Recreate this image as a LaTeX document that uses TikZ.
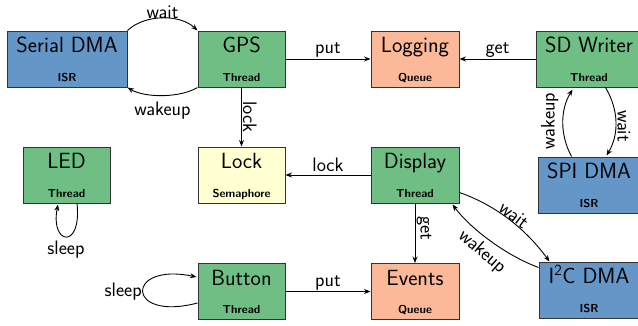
\documentclass[tikz,border=0pt]{standalone}
\usepackage{fontspec}
\usetikzlibrary{arrows.meta,calc}

\definecolor{isrblue}{HTML}{6596C8}
\definecolor{thrgreen}{HTML}{6FBF85}
\definecolor{queorange}{HTML}{FCB99A}
\definecolor{semyellow}{HTML}{FFFFD2}

\tikzset{
  box/.style={draw=black!80, line width=1pt, minimum height=56pt, inner sep=0pt},
  ttl/.style={font=\fontsize{22}{26}\selectfont\sffamily, anchor=base, inner sep=0pt},
  sub/.style={font=\fontsize{11.5}{14}\selectfont\sffamily\bfseries, anchor=base, inner sep=0pt},
  lbl/.style={font=\fontsize{19.5}{23}\selectfont\sffamily, inner sep=0pt},
  conn/.style={line width=0.9pt, -{Stealth[length=6.5pt,width=5pt]}},
}

% block: name, x, y, width, fill, title, kind
\newcommand\blk[7]{%
  \node[box, fill=#5, minimum width=#4pt] (#1) at (#2,#3) {};
  \node[ttl] (#1-t) at ($(#1.center)+(0,-6.5)$) {#6};
  \node[sub] (#1-s) at ($(#1.center)+(0,22)$) {#7};
}

\begin{document}
\begin{tikzpicture}[x=1pt,y=-1pt]
\clip (0,0) rectangle (638,325);

% blocks
\blk{serial}{67}{59}{120}{isrblue}{Serial DMA}{ISR}
\blk{gps}{241.5}{59}{87}{thrgreen}{GPS}{Thread}
\blk{logging}{415}{59}{88}{queorange}{Logging}{Queue}
\blk{sdw}{589}{59}{106}{thrgreen}{SD Writer}{Thread}
\blk{led}{66.5}{175}{87}{thrgreen}{LED}{Thread}
\blk{lock}{241.5}{175}{87}{semyellow}{Lock}{Semaphore}
\blk{display}{415}{175}{88}{thrgreen}{Display}{Thread}
\blk{spi}{589}{185}{102}{isrblue}{SPI DMA}{ISR}
\blk{button}{241.5}{291.5}{87}{thrgreen}{Button}{Thread}
\blk{events}{415}{291.5}{88}{queorange}{Events}{Queue}
\blk{i2c}{589}{290}{100}{isrblue}{I\textsuperscript{2}C DMA}{ISR}

% serial DMA <-> GPS
\draw[conn] (serial.north east) .. controls (145,14) and (180,14) .. (gps.north west);
\node[lbl, anchor=base] (l-wait1) at (162.5,18.5) {wait};
\draw[conn] (gps.south west) .. controls (180,98) and (145,98) .. (serial.south east);
\node[lbl, anchor=base] (l-wake1) at (162.5,115) {wakeup};

% queue traffic
\draw[conn] (gps.east) -- (logging.west);
\node[lbl, anchor=base] (l-put1) at (328,53.5) {put};
\draw[conn] (sdw.west) -- (logging.east);
\node[lbl, anchor=base] (l-get1) at (497.5,53) {get};
\draw[conn] (button.east) -- (events.west);
\node[lbl, anchor=base] (l-put2) at (328,286) {put};
\draw[conn] (display.south) -- (events.north);
\node[lbl, anchor=base, rotate=-90] (l-get2) at (420.5,228.5) {get};

% semaphore
\draw[conn] (gps.south) -- (lock.north);
\node[lbl, anchor=base, rotate=-90] (l-lock1) at (243,117) {lock};
\draw[conn] (display.west) -- (lock.east);
\node[lbl, anchor=base] (l-lock2) at (328,171) {lock};

% SD writer <-> SPI DMA
\draw[conn] ($(spi.north west)+(34,0)$) .. controls (560,135) and (560,110) .. ($(sdw.south west)+(37,2)$);
\node[lbl, anchor=base, rotate=90] (l-wake2) at (554.5,121) {wakeup};
\draw[conn] ($(sdw.south west)+(70,0)$) .. controls (619,110) and (619,135) .. ($(spi.north west)+(69,-1)$);
\node[lbl, anchor=base, rotate=-90] (l-wait2) at (617.5,126) {wait};

% display <-> I2C DMA
\draw[conn] ($(display.south east)+(0,-11)$) .. controls (495,205) and (525,228) .. ($(i2c.north west)+(11,0)$);
\node[lbl, rotate=-38] (l-wait3) at (514,215) {wait};
\draw[conn] ($(i2c.north west)+(0,6)$) .. controls (505,255) and (470,228) .. ($(display.south east)+(-7,1)$);
\node[lbl, rotate=-41] (l-wake3) at (482,252) {wakeup};

% sleep loops
\draw[conn] ($(led.south)+(10.5,0)$) .. controls (82,250) and (50,245) .. ($(led.south)+(-8.5,1)$);
\node[lbl, anchor=base] (l-sleep1) at (66,254) {sleep};
\draw[conn] ($(button.west)+(0,11.5)$) .. controls (125,322) and (125,262) .. ($(button.west)+(-1,-14.5)$);
\node[lbl, anchor=base east] (l-sleep2) at (142,296.5) {sleep};
\end{tikzpicture}
\end{document}
